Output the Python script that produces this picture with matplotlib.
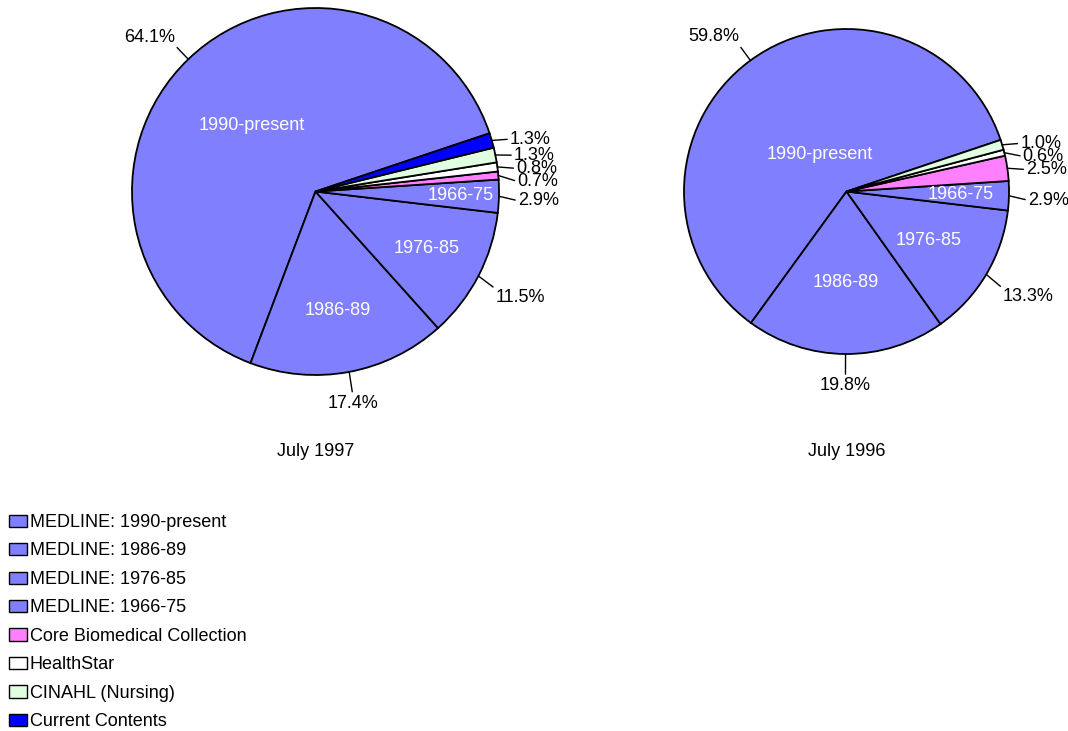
import numpy as np
import matplotlib
matplotlib.use("Agg")
import matplotlib.pyplot as plt
from matplotlib.patches import Patch

plt.rcParams['font.family'] = ['Liberation Sans', 'DejaVu Sans']

# ---------------- data ----------------
categories = ["MEDLINE: 1990-present", "MEDLINE: 1986-89", "MEDLINE: 1976-85",
              "MEDLINE: 1966-75", "Core Biomedical Collection", "HealthStar",
              "CINAHL (Nursing)", "Current Contents"]
inner_labels = ["1990-present", "1986-89", "1976-85", "1966-75", "", "", "", ""]
values_1997 = [64.1, 17.4, 11.5, 2.9, 0.7, 0.8, 1.3, 1.3]
values_1996 = [59.8, 19.8, 13.3, 2.9, 2.5, 0.6, 1.0, 0.0]
titles = ["July 1997", "July 1996"]
colors = ["#8080FF", "#8080FF", "#8080FF", "#8080FF", "#FF80FF", "#FFFFFF",
          "#E0FFE0", "#0000FF"]

# ---------------- layout (pixels) ----------------
W, H = 1068, 731
fig = plt.figure(figsize=(W / 100, H / 100), dpi=100)
ax = fig.add_axes([0, 0, 1, 1])

pies = [
    dict(values=values_1997, title=titles[0], cx=315.5, cy=H - 191.5, r=183.5,
         inner_dist=[0.50, 0.66, 0.68, 0.79]),
    dict(values=values_1996, title=titles[1], cx=846.5, cy=H - 191.5, r=162.5,
         inner_dist=[0.28, 0.56, 0.585, 0.70]),
]
START = 18.5
FS = 13
GAP = 19
MIN_SEP = 13
LOW_SHIFT = 4   # lower-side labels sit a little lower

for p in pies:
    vals = np.array(p["values"], dtype=float)
    keep = [i for i, v in enumerate(vals) if v > 0]
    v = vals[keep]
    cols = [colors[i] for i in keep]
    wedges, _ = ax.pie(v, colors=cols, startangle=START, counterclock=True,
                       center=(p["cx"], p["cy"]), radius=p["r"],
                       wedgeprops=dict(edgecolor="black", linewidth=1.3))
    R = p["r"]
    rt = R + GAP
    labs = []
    for w, idx in zip(wedges, keep):
        mid = np.deg2rad((w.theta1 + w.theta2) / 2.0)
        c, s = np.cos(mid), np.sin(mid)
        labs.append(dict(idx=idx, c=c, s=s, x=rt * c, y=rt * s,
                         val=vals[idx]))
        if inner_labels[idx]:
            d = p["inner_dist"][idx] * R
            ax.text(p["cx"] + d * c, p["cy"] + d * s, inner_labels[idx],
                    color="white", fontsize=FS, ha="center", va="center")
    # spread crowded labels on the right side (top to bottom)
    right = sorted([l for l in labs if abs(l["s"]) < 0.3 and l["c"] > 0],
                   key=lambda l: -l["y"])
    for a, b in zip(right[:-1], right[1:]):
        if a["y"] - b["y"] < MIN_SEP:
            b["y"] = a["y"] - MIN_SEP
    for l in labs:
        c, s = l["c"], l["s"]
        ha = "left" if c > 0.25 else ("right" if c < -0.25 else "center")
        va = "bottom" if s > 0.3 else ("top" if s < -0.3 else "center")
        tx, ty = p["cx"] + l["x"], p["cy"] + l["y"]
        if s < 0.3:
            ty -= LOW_SHIFT
        ax.text(tx, ty, f"{l['val']:.1f}%", fontsize=FS, ha=ha, va=va,
                color="black")
        ex, ey = p["cx"] + R * c, p["cy"] + R * s
        dx, dy = tx - ex, ty - ey
        n = np.hypot(dx, dy)
        f = max(n - 3, 0) / n if n > 0 else 0
        ax.plot([ex, ex + dx * f], [ey, ey + dy * f], color="black", lw=1.0)
    ax.text(p["cx"], H - 452, p["title"], fontsize=FS, ha="center",
            va="center", color="black")

ax.set_xlim(0, W)
ax.set_ylim(0, H)
ax.set_aspect("auto")
ax.axis("off")

handles = [Patch(facecolor=c, edgecolor="black", linewidth=1.0) for c in colors]
ax.legend(handles, categories, loc="upper left",
          bbox_to_anchor=(9 / W, 1 - 514 / H), bbox_transform=fig.transFigure,
          frameon=False, fontsize=FS, borderpad=0, borderaxespad=0,
          handlelength=1.0, handleheight=0.66, handletextpad=0.15,
          labelspacing=0.635)

fig.savefig("out.png", dpi=100)
